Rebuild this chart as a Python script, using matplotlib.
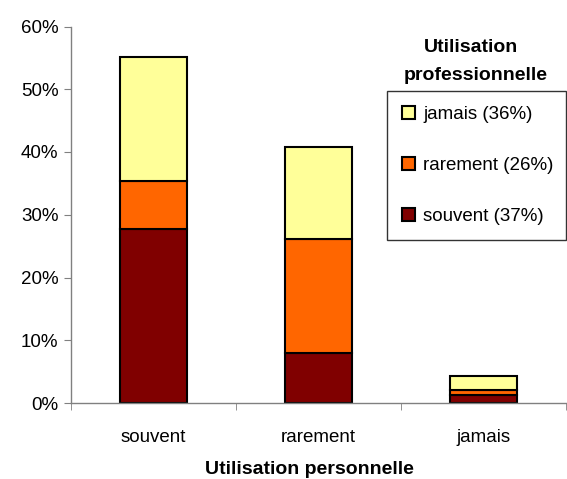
import matplotlib
matplotlib.use("Agg")
import matplotlib.pyplot as plt
import numpy as np

plt.rcParams['font.family'] = ['Liberation Sans', 'DejaVu Sans']

# Utilisation personnelle (x) / professionnelle (empilement)
categories = ['souvent', 'rarement', 'jamais']
pro_souvent = [27.7, 8.0, 1.25]
pro_rarement = [7.6, 18.2, 0.9]
pro_jamais = [19.8, 14.6, 2.2]
legend_labels = ['jamais (36%)', 'rarement (26%)', 'souvent (37%)']
yticks = [0, 10, 20, 30, 40, 50, 60]

fig = plt.figure(figsize=(5.67, 4.79), dpi=100)
ax = fig.add_axes([71 / 567, 1 - 403 / 479, (566 - 71) / 567, (403 - 26.5) / 479])

x = np.arange(len(categories))
width = 0.41
b1 = ax.bar(x, pro_souvent, width, color='#800000', edgecolor='black', linewidth=1.5)
bottom2 = np.array(pro_souvent)
b2 = ax.bar(x, pro_rarement, width, bottom=bottom2, color='#FF6600', edgecolor='black', linewidth=1.5)
bottom3 = bottom2 + np.array(pro_rarement)
b3 = ax.bar(x, pro_jamais, width, bottom=bottom3, color='#FFFF99', edgecolor='black', linewidth=1.5)

ax.set_xlim(-0.5, 2.5)
ax.set_ylim(0, 60)
ax.set_yticks(yticks)
ax.set_yticklabels(['{}%'.format(v) for v in yticks], fontsize=13.5)
ax.set_xticks(x)
ax.set_xticklabels(categories, fontsize=13.5)
ax.tick_params(axis='x', length=0, pad=19)
ax.set_xticks([-0.5, 0.5, 1.5, 2.5], minor=True)
ax.tick_params(axis='x', which='minor', length=5, color='#808080')
ax.tick_params(axis='y', length=5, color='#808080', pad=4)

for s in ['top', 'right']:
    ax.spines[s].set_visible(False)
for s in ['left', 'bottom']:
    ax.spines[s].set_color('#808080')
    ax.spines[s].set_linewidth(1)

fig.text(309 / 567, 1 - 474 / 479, 'Utilisation personnelle', fontsize=14,
         fontweight='bold', ha='center', va='baseline')

fig.text(471 / 567, 1 - 47 / 479, 'Utilisation', fontsize=14,
         fontweight='bold', ha='center', va='center')
fig.text(476 / 567, 1 - 75 / 479, 'professionnelle', fontsize=14,
         fontweight='bold', ha='center', va='center')

leg = fig.legend([b3, b2, b1], legend_labels, loc='upper left',
                 bbox_to_anchor=(387 / 567, 1 - 240 / 479, (566 - 387) / 567, (240 - 91) / 479),
                 mode='expand', fontsize=13.5,
                 handlelength=0.7, handleheight=0.7, handletextpad=0.45,
                 labelspacing=1.82, borderpad=0.78, borderaxespad=0,
                 frameon=True, fancybox=False, edgecolor='black')
leg.get_frame().set_linewidth(1)

fig.savefig('out.png', dpi=100)
